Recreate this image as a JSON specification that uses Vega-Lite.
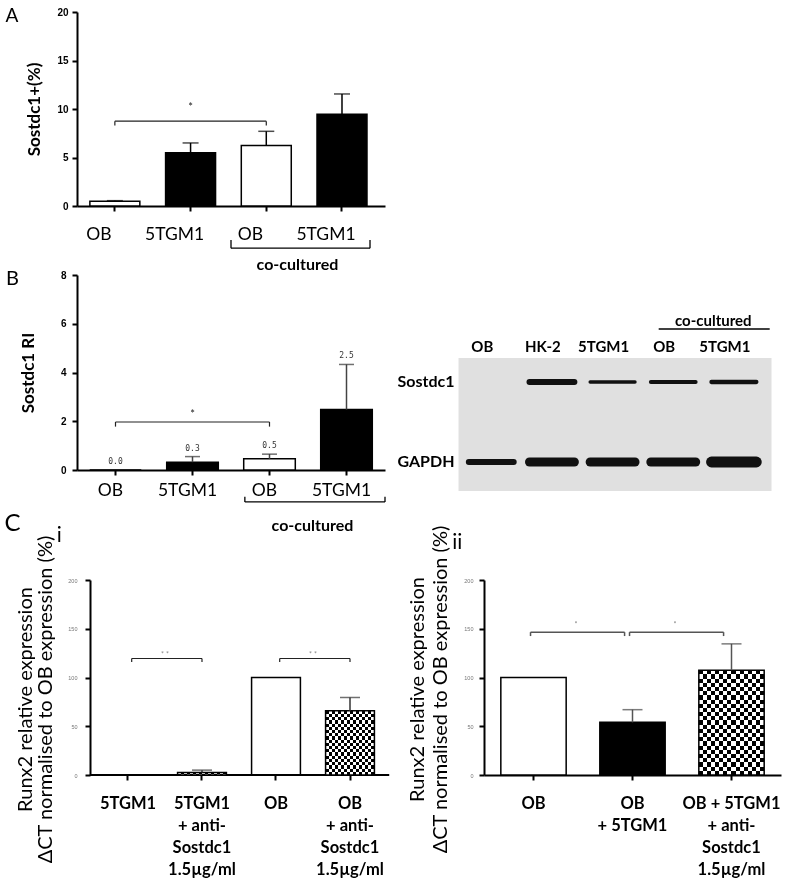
{
"$schema": "https://vega.github.io/schema/vega-lite/v6.json",
"background": "white",
"padding": {"left": 4, "top": 6, "right": 0, "bottom": 0},
"config": {
  "view": {"stroke": null},
  "font": "Lato",
  "axis": {"grid": false, "domainColor": "black", "domainWidth": 2, "tickColor": "black", "tickWidth": 2, "tickSize": 5, "labelColor": "black", "titleColor": "black", "labelFlush": false, "labelOverlap": false}
},
"datasets": {
  "a": [
    {"cat": "OB", "value": 0.5, "err": 0.55, "fill": "open"},
    {"cat": "5TGM1", "value": 5.5, "err": 6.5, "fill": "filled"},
    {"cat": "OB co", "value": 6.25, "err": 7.7, "fill": "open"},
    {"cat": "5TGM1 co", "value": 9.45, "err": 11.55, "fill": "filled"}
  ],
  "aSig": [{"from": "OB", "to": "OB co", "mid": "5TGM1", "level": 8.75, "low": 8.3, "star": "*", "starlevel": 10.1}],
  "aGroup": [{"from": "OB co", "to": "5TGM1 co", "top": -3.5, "level": -4.35}],
  "aLetter": [{"at": "OB", "label": "A", "level": 19.6}],
  "b": [
    {"cat": "OB", "value": 0, "err": 0, "fill": "open", "label": "0.0"},
    {"cat": "5TGM1", "value": 0.32, "err": 0.55, "fill": "filled", "label": "0.3"},
    {"cat": "OB co", "value": 0.46, "err": 0.65, "fill": "open", "label": "0.5"},
    {"cat": "5TGM1 co", "value": 2.48, "err": 4.33, "fill": "filled", "label": "2.5"}
  ],
  "bSig": [{"from": "OB", "to": "OB co", "mid": "5TGM1", "level": 1.97, "low": 1.78, "star": "*", "starlevel": 2.25}],
  "bGroup": [{"from": "OB co", "to": "5TGM1 co", "top": -1.1, "level": -1.31}],
  "bLetter": [{"at": "OB", "label": "B", "level": 7.83}],
  "membrane": [{"from": "OB", "to": "5TGM1 co", "mid": 0.5}],
  "lanes": [
    {"lane": "OB", "label": "OB", "level": 1.083},
    {"lane": "HK-2", "label": "HK-2", "level": 1.083},
    {"lane": "5TGM1", "label": "5TGM1", "level": 1.083},
    {"lane": "OB co", "label": "OB", "level": 1.083},
    {"lane": "5TGM1 co", "label": "5TGM1", "level": 1.083}
  ],
  "proteins": [{"lane": "OB", "protein": "Sostdc1"}, {"lane": "OB", "protein": "GAPDH"}],
  "blot": [
    {"lane": "HK-2", "protein": "Sostdc1", "density": 0.5},
    {"lane": "5TGM1", "protein": "Sostdc1", "density": 0.28},
    {"lane": "OB co", "protein": "Sostdc1", "density": 0.32},
    {"lane": "5TGM1 co", "protein": "Sostdc1", "density": 0.36},
    {"lane": "OB", "protein": "GAPDH", "density": 0.5},
    {"lane": "HK-2", "protein": "GAPDH", "density": 0.75},
    {"lane": "5TGM1", "protein": "GAPDH", "density": 0.75},
    {"lane": "OB co", "protein": "GAPDH", "density": 0.75},
    {"lane": "5TGM1 co", "protein": "GAPDH", "density": 0.9}
  ],
  "blotGroup": [{"from": "OB co", "to": "5TGM1 co", "line": 1.218, "label": "co-cultured", "labelcat": "5TGM1 co", "labellevel": 1.278}],
  "ci": [
    {"cat": "5TGM1", "value": 0, "err": null, "fill": "filled"},
    {"cat": "5TGM1|+ anti-|Sostdc1|1.5µg/ml", "value": 2.5, "err": 5, "fill": "checked"},
    {"cat": "OB", "value": 100, "err": null, "fill": "open"},
    {"cat": "OB|+ anti-|Sostdc1|1.5µg/ml", "value": 66, "err": 79.5, "fill": "checked"}
  ],
  "ciBase": [{"from": "5TGM1", "to": "OB|+ anti-|Sostdc1|1.5µg/ml", "base": 0}],
  "ciSig": [
    {"from": "5TGM1", "to": "5TGM1|+ anti-|Sostdc1|1.5µg/ml", "level": 119.5, "low": 116, "star": "* *", "starlevel": 123.5},
    {"from": "OB", "to": "OB|+ anti-|Sostdc1|1.5µg/ml", "level": 119.5, "low": 116, "star": "* *", "starlevel": 123.5}
  ],
  "cLetter": [{"at": "5TGM1", "label": "C", "level": 257.7}],
  "ciLetter": [{"at": "5TGM1", "label": "i", "level": 245}],
  "cii": [
    {"cat": "OB", "value": 100, "err": null, "fill": "open"},
    {"cat": "OB|+ 5TGM1", "value": 54, "err": 67, "fill": "filled"},
    {"cat": "OB + 5TGM1|+ anti-|Sostdc1|1.5µg/ml", "value": 107.5, "err": 134.5, "fill": "checked"}
  ],
  "ciiSig": [
    {"from": "OB", "to": "OB|+ 5TGM1", "level": 146.5, "low": 142.5, "star": "*", "starlevel": 153.5},
    {"from": "OB|+ 5TGM1", "to": "OB + 5TGM1|+ anti-|Sostdc1|1.5µg/ml", "level": 146.5, "low": 142.5, "star": "*", "starlevel": 153.5}
  ],
  "ciiLetter": [{"at": "OB", "label": "ii", "level": 237.5}]
},
"spacing": -23,
"vconcat": [
 {
  "spacing": -4,
  "vconcat": [
   {
    "width": 308, "height": 194,
    "data": {"name": "a"},
    "layer": [
     {"mark": {"type": "bar", "stroke": "black", "strokeWidth": 1.5, "width": {"band": 0.66}},
      "encoding": {
       "x": {"field": "cat", "type": "nominal", "scale": {"domain": ["OB", "5TGM1", "OB co", "5TGM1 co"], "paddingInner": 0, "paddingOuter": 0.034, "align": 0},
             "axis": {"title": "co-cultured", "titleX": 220, "titleFont": "Lato", "titleFontSize": 16, "titleFontWeight": "bold", "titlePadding": 14, "labelExpr": "replace(datum.label, ' co', '')", "labelFont": "Lato", "labelFontSize": 17.5, "labelPadding": 14, "labelOffset": -16, "labelAngle": 0}},
       "y": {"field": "value", "type": "quantitative", "scale": {"domain": [0, 20], "nice": false},
             "axis": {"title": "Sostdc1+(%)", "values": [0, 5, 10, 15, 20], "titleFont": "Lato", "titleFontSize": 17, "titleFontWeight": "bold", "titlePadding": 12, "labelFont": "Liberation Sans", "labelFontSize": 10, "labelFontWeight": "bold", "labelPadding": 4, "minExtent": 22, "maxExtent": 22}},
       "fill": {"field": "fill", "type": "nominal", "scale": {"domain": ["open", "filled"], "range": ["white", "black"]}, "legend": null}
      }},
     {"transform": [{"filter": "datum.err > datum.value"}],
      "mark": {"type": "rule", "color": "black", "strokeWidth": 1.5},
      "encoding": {
       "x": {"field": "cat", "type": "nominal", "scale": {"domain": ["OB", "5TGM1", "OB co", "5TGM1 co"], "paddingInner": 0, "paddingOuter": 0.034, "align": 0}},
       "y": {"field": "value", "type": "quantitative", "scale": {"domain": [0, 20], "nice": false}},
       "y2": {"field": "err"}
      }},
     {"transform": [{"filter": "datum.err > datum.value"}],
      "mark": {"type": "tick", "color": "black", "thickness": 1.5, "size": 16},
      "encoding": {
       "x": {"field": "cat", "type": "nominal", "scale": {"domain": ["OB", "5TGM1", "OB co", "5TGM1 co"], "paddingInner": 0, "paddingOuter": 0.034, "align": 0}},
       "y": {"field": "err", "type": "quantitative", "scale": {"domain": [0, 20], "nice": false}}
      }},
     {"data": {"name": "aSig"},
      "mark": {"type": "rule", "color": "#222", "strokeWidth": 1.2},
      "encoding": {
       "x": {"field": "from", "type": "nominal", "bandPosition": 0.5, "scale": {"domain": ["OB", "5TGM1", "OB co", "5TGM1 co"], "paddingInner": 0, "paddingOuter": 0.034, "align": 0}},
       "x2": {"field": "to", "bandPosition": 0.5},
       "y": {"field": "level", "type": "quantitative", "scale": {"domain": [0, 20], "nice": false}}
      }},
     {"data": {"name": "aSig"},
      "mark": {"type": "rule", "color": "#222", "strokeWidth": 1.2},
      "encoding": {
       "x": {"field": "from", "type": "nominal", "scale": {"domain": ["OB", "5TGM1", "OB co", "5TGM1 co"], "paddingInner": 0, "paddingOuter": 0.034, "align": 0}},
       "y": {"field": "level", "type": "quantitative", "scale": {"domain": [0, 20], "nice": false}},
       "y2": {"field": "low"}
      }},
     {"data": {"name": "aSig"},
      "mark": {"type": "rule", "color": "#222", "strokeWidth": 1.2},
      "encoding": {
       "x": {"field": "to", "type": "nominal", "scale": {"domain": ["OB", "5TGM1", "OB co", "5TGM1 co"], "paddingInner": 0, "paddingOuter": 0.034, "align": 0}},
       "y": {"field": "level", "type": "quantitative", "scale": {"domain": [0, 20], "nice": false}},
       "y2": {"field": "low"}
      }},
     {"data": {"name": "aSig"},
      "mark": {"type": "text", "fontSize": 11, "baseline": "middle", "color": "#222"},
      "encoding": {
       "x": {"field": "mid", "type": "nominal", "scale": {"domain": ["OB", "5TGM1", "OB co", "5TGM1 co"], "paddingInner": 0, "paddingOuter": 0.034, "align": 0}},
       "y": {"field": "starlevel", "type": "quantitative", "scale": {"domain": [0, 20], "nice": false}},
       "text": {"field": "star"}
      }},
     {"data": {"name": "aGroup"},
      "mark": {"type": "rule", "color": "black", "strokeWidth": 1.3},
      "encoding": {
       "x": {"field": "from", "type": "nominal", "bandPosition": 0.034, "scale": {"domain": ["OB", "5TGM1", "OB co", "5TGM1 co"], "paddingInner": 0, "paddingOuter": 0.034, "align": 0}},
       "x2": {"field": "to", "bandPosition": 0.87},
       "y": {"field": "level", "type": "quantitative", "scale": {"domain": [0, 20], "nice": false}}
      }},
     {"data": {"name": "aGroup"},
      "mark": {"type": "rule", "color": "black", "strokeWidth": 1.3},
      "encoding": {
       "x": {"field": "from", "type": "nominal", "bandPosition": 0.034, "scale": {"domain": ["OB", "5TGM1", "OB co", "5TGM1 co"], "paddingInner": 0, "paddingOuter": 0.034, "align": 0}},
       "y": {"field": "top", "type": "quantitative", "scale": {"domain": [0, 20], "nice": false}},
       "y2": {"field": "level"}
      }},
     {"data": {"name": "aGroup"},
      "mark": {"type": "rule", "color": "black", "strokeWidth": 1.3},
      "encoding": {
       "x": {"field": "to", "type": "nominal", "bandPosition": 0.87, "scale": {"domain": ["OB", "5TGM1", "OB co", "5TGM1 co"], "paddingInner": 0, "paddingOuter": 0.034, "align": 0}},
       "y": {"field": "top", "type": "quantitative", "scale": {"domain": [0, 20], "nice": false}},
       "y2": {"field": "level"}
      }},
     {"data": {"name": "aLetter"},
      "mark": {"type": "text", "fontSize": 19, "baseline": "middle", "align": "center"},
      "encoding": {
       "x": {"field": "at", "type": "nominal", "bandPosition": -0.859, "scale": {"domain": ["OB", "5TGM1", "OB co", "5TGM1 co"], "paddingInner": 0, "paddingOuter": 0.034, "align": 0}},
       "y": {"field": "level", "type": "quantitative", "scale": {"domain": [0, 20], "nice": false}},
       "text": {"field": "label"}
      }}
    ]
   },
   {
    "width": 308, "height": 195,
    "resolve": {"scale": {"x": "independent", "y": "independent"}},
    "layer": [
     {
      "data": {"name": "b"},
      "layer": [
       {"mark": {"type": "bar", "stroke": "black", "strokeWidth": 1.5, "width": {"band": 0.67}},
        "encoding": {
         "x": {"field": "cat", "type": "nominal", "scale": {"domain": ["OB", "5TGM1", "OB co", "5TGM1 co"], "paddingInner": 0, "paddingOuter": 0},
               "axis": {"title": "co-cultured", "titleX": 235, "titleFont": "Lato", "titleFontSize": 16, "titleFontWeight": "bold", "titlePadding": 19, "labelExpr": "replace(datum.label, ' co', '')", "labelFont": "Lato", "labelFontSize": 17.5, "labelPadding": 6, "labelOffset": -5, "labelAngle": 0}},
         "y": {"field": "value", "type": "quantitative", "scale": {"domain": [0, 8], "nice": false},
               "axis": {"title": "Sostdc1 RI", "values": [0, 2, 4, 6, 8], "titleFont": "Lato", "titleFontSize": 17, "titleFontWeight": "bold", "titlePadding": 22, "labelFont": "Liberation Sans", "labelFontSize": 10, "labelFontWeight": "bold", "labelPadding": 6, "minExtent": 18, "maxExtent": 18}},
         "fill": {"field": "fill", "type": "nominal", "scale": {"domain": ["open", "filled"], "range": ["white", "black"]}, "legend": null}
        }},
       {"transform": [{"filter": "datum.err > datum.value"}],
        "mark": {"type": "rule", "color": "#444", "strokeWidth": 1.5},
        "encoding": {
         "x": {"field": "cat", "type": "nominal", "scale": {"domain": ["OB", "5TGM1", "OB co", "5TGM1 co"], "paddingInner": 0, "paddingOuter": 0}},
         "y": {"field": "value", "type": "quantitative", "scale": {"domain": [0, 8], "nice": false}},
         "y2": {"field": "err"}
        }},
       {"transform": [{"filter": "datum.err > datum.value"}],
        "mark": {"type": "tick", "color": "#333", "thickness": 1.5, "size": 15},
        "encoding": {
         "x": {"field": "cat", "type": "nominal", "scale": {"domain": ["OB", "5TGM1", "OB co", "5TGM1 co"], "paddingInner": 0, "paddingOuter": 0}},
         "y": {"field": "err", "type": "quantitative", "scale": {"domain": [0, 8], "nice": false}}
        }},
       {"mark": {"type": "text", "font": "DejaVu Sans Mono", "fontSize": 8, "color": "#333", "baseline": "middle", "dy": -8},
        "encoding": {
         "x": {"field": "cat", "type": "nominal", "scale": {"domain": ["OB", "5TGM1", "OB co", "5TGM1 co"], "paddingInner": 0, "paddingOuter": 0}},
         "y": {"field": "err", "type": "quantitative", "scale": {"domain": [0, 8], "nice": false}},
         "text": {"field": "label"}
        }},
       {"data": {"name": "bSig"},
        "mark": {"type": "rule", "color": "#222", "strokeWidth": 1.2},
        "encoding": {
         "x": {"field": "from", "type": "nominal", "bandPosition": 0.5, "scale": {"domain": ["OB", "5TGM1", "OB co", "5TGM1 co"], "paddingInner": 0, "paddingOuter": 0}},
         "x2": {"field": "to", "bandPosition": 0.5},
         "y": {"field": "level", "type": "quantitative", "scale": {"domain": [0, 8], "nice": false}}
        }},
       {"data": {"name": "bSig"},
        "mark": {"type": "rule", "color": "#222", "strokeWidth": 1.2},
        "encoding": {
         "x": {"field": "from", "type": "nominal", "scale": {"domain": ["OB", "5TGM1", "OB co", "5TGM1 co"], "paddingInner": 0, "paddingOuter": 0}},
         "y": {"field": "level", "type": "quantitative", "scale": {"domain": [0, 8], "nice": false}},
         "y2": {"field": "low"}
        }},
       {"data": {"name": "bSig"},
        "mark": {"type": "rule", "color": "#222", "strokeWidth": 1.2},
        "encoding": {
         "x": {"field": "to", "type": "nominal", "scale": {"domain": ["OB", "5TGM1", "OB co", "5TGM1 co"], "paddingInner": 0, "paddingOuter": 0}},
         "y": {"field": "level", "type": "quantitative", "scale": {"domain": [0, 8], "nice": false}},
         "y2": {"field": "low"}
        }},
       {"data": {"name": "bSig"},
        "mark": {"type": "text", "fontSize": 11, "baseline": "middle", "color": "#222"},
        "encoding": {
         "x": {"field": "mid", "type": "nominal", "scale": {"domain": ["OB", "5TGM1", "OB co", "5TGM1 co"], "paddingInner": 0, "paddingOuter": 0}},
         "y": {"field": "starlevel", "type": "quantitative", "scale": {"domain": [0, 8], "nice": false}},
         "text": {"field": "star"}
        }},
       {"data": {"name": "bGroup"},
        "mark": {"type": "rule", "color": "black", "strokeWidth": 1.3},
        "encoding": {
         "x": {"field": "from", "type": "nominal", "bandPosition": 0.18, "scale": {"domain": ["OB", "5TGM1", "OB co", "5TGM1 co"], "paddingInner": 0, "paddingOuter": 0}},
         "x2": {"field": "to", "bandPosition": 1.0},
         "y": {"field": "level", "type": "quantitative", "scale": {"domain": [0, 8], "nice": false}}
        }},
       {"data": {"name": "bGroup"},
        "mark": {"type": "rule", "color": "black", "strokeWidth": 1.3},
        "encoding": {
         "x": {"field": "from", "type": "nominal", "bandPosition": 0.18, "scale": {"domain": ["OB", "5TGM1", "OB co", "5TGM1 co"], "paddingInner": 0, "paddingOuter": 0}},
         "y": {"field": "top", "type": "quantitative", "scale": {"domain": [0, 8], "nice": false}},
         "y2": {"field": "level"}
        }},
       {"data": {"name": "bGroup"},
        "mark": {"type": "rule", "color": "black", "strokeWidth": 1.3},
        "encoding": {
         "x": {"field": "to", "type": "nominal", "bandPosition": 1.0, "scale": {"domain": ["OB", "5TGM1", "OB co", "5TGM1 co"], "paddingInner": 0, "paddingOuter": 0}},
         "y": {"field": "top", "type": "quantitative", "scale": {"domain": [0, 8], "nice": false}},
         "y2": {"field": "level"}
        }},
       {"data": {"name": "bLetter"},
        "mark": {"type": "text", "fontSize": 20, "baseline": "middle", "align": "center"},
        "encoding": {
         "x": {"field": "at", "type": "nominal", "bandPosition": -0.838, "scale": {"domain": ["OB", "5TGM1", "OB co", "5TGM1 co"], "paddingInner": 0, "paddingOuter": 0}},
         "y": {"field": "level", "type": "quantitative", "scale": {"domain": [0, 8], "nice": false}},
         "text": {"field": "label"}
        }}
      ]
     },
     {
      "resolve": {"scale": {"y": "independent", "strokeWidth": "independent"}},
      "layer": [
       {"data": {"name": "membrane"},
        "mark": {"type": "rule", "color": "#e0e0e0", "strokeWidth": 133, "strokeCap": "butt"},
        "encoding": {
         "x": {"field": "from", "type": "nominal", "bandPosition": -0.04, "axis": null, "scale": {"domain": ["OB", "HK-2", "5TGM1", "OB co", "5TGM1 co"], "range": [382, 695], "paddingInner": 0, "paddingOuter": 0.08, "align": 0.2}},
         "x2": {"field": "to", "bandPosition": 1.12},
         "y": {"field": "mid", "type": "quantitative", "axis": null, "scale": {"domain": [0, 1], "range": [216, 83]}}
        }},
       {"data": {"name": "blot"},
        "mark": {"type": "rule", "strokeCap": "round", "color": "#111"},
        "encoding": {
         "x": {"field": "lane", "type": "nominal", "bandPosition": 0.13, "axis": null, "scale": {"domain": ["OB", "HK-2", "5TGM1", "OB co", "5TGM1 co"], "range": [382, 695], "paddingInner": 0, "paddingOuter": 0.08, "align": 0.2}},
         "x2": {"field": "lane", "bandPosition": 0.87},
         "y": {"field": "protein", "type": "nominal", "axis": null, "scale": {"type": "point", "domain": ["Sostdc1", "GAPDH"], "range": [107, 187], "padding": 0}},
         "strokeWidth": {"field": "density", "type": "quantitative", "scale": {"domain": [0, 1], "range": [0, 12]}, "legend": null}
        }},
       {"data": {"name": "lanes"},
        "mark": {"type": "text", "fontSize": 15, "fontWeight": "bold", "baseline": "middle", "dx": -9},
        "encoding": {
         "x": {"field": "lane", "type": "nominal", "axis": null, "scale": {"domain": ["OB", "HK-2", "5TGM1", "OB co", "5TGM1 co"], "range": [382, 695], "paddingInner": 0, "paddingOuter": 0.08, "align": 0.2}},
         "y": {"field": "level", "type": "quantitative", "axis": null, "scale": {"domain": [0, 1], "range": [216, 83]}},
         "text": {"field": "label"}
        }},
       {"data": {"name": "proteins"},
        "mark": {"type": "text", "fontSize": 16, "fontWeight": "bold", "baseline": "middle", "align": "right"},
        "encoding": {
         "x": {"field": "lane", "type": "nominal", "bandPosition": -0.106, "axis": null, "scale": {"domain": ["OB", "HK-2", "5TGM1", "OB co", "5TGM1 co"], "range": [382, 695], "paddingInner": 0, "paddingOuter": 0.08, "align": 0.2}},
         "y": {"field": "protein", "type": "nominal", "axis": null, "scale": {"type": "point", "domain": ["Sostdc1", "GAPDH"], "range": [107, 187], "padding": 0}},
         "text": {"field": "protein"}
        }},
       {"data": {"name": "blotGroup"},
        "mark": {"type": "rule", "color": "black", "strokeWidth": 1.5},
        "encoding": {
         "x": {"field": "from", "type": "nominal", "bandPosition": 0.26, "axis": null, "scale": {"domain": ["OB", "HK-2", "5TGM1", "OB co", "5TGM1 co"], "range": [382, 695], "paddingInner": 0, "paddingOuter": 0.08, "align": 0.2}},
         "x2": {"field": "to", "bandPosition": 1.09},
         "y": {"field": "line", "type": "quantitative", "axis": null, "scale": {"domain": [0, 1], "range": [216, 83]}}
        }},
       {"data": {"name": "blotGroup"},
        "mark": {"type": "text", "fontSize": 15, "fontWeight": "bold", "baseline": "middle"},
        "encoding": {
         "x": {"field": "labelcat", "type": "nominal", "bandPosition": 0.16, "axis": null, "scale": {"domain": ["OB", "HK-2", "5TGM1", "OB co", "5TGM1 co"], "range": [382, 695], "paddingInner": 0, "paddingOuter": 0.08, "align": 0.2}},
         "y": {"field": "labellevel", "type": "quantitative", "axis": null, "scale": {"domain": [0, 1], "range": [216, 83]}},
         "text": {"field": "label"}
        }}
      ]
     }
    ]
   }
  ]
 },
 {
  "spacing": 15,
  "hconcat": [
   {
    "width": 312, "height": 195,
    "data": {"name": "ci"},
    "layer": [
     {"transform": [{"filter": "datum.fill != 'checked'"}],
      "mark": {"type": "bar", "width": {"band": 0.66}},
      "encoding": {
       "x": {"field": "cat", "type": "nominal", "title": null, "scale": {"domain": ["5TGM1", "5TGM1|+ anti-|Sostdc1|1.5µg/ml", "OB", "OB|+ anti-|Sostdc1|1.5µg/ml"], "paddingInner": 0, "paddingOuter": 0.108, "align": 0.875},
             "axis": {"domain": false, "labelExpr": "split(datum.label, '|')", "labelFont": "Lato", "labelFontSize": 16.5, "labelFontWeight": "bold", "labelLineHeight": 22, "labelPadding": 15, "labelAngle": 0}},
       "y": {"field": "value", "type": "quantitative", "scale": {"domain": [0, 200], "nice": false},
             "axis": {"offset": -13, "title": ["Runx2 relative expression", "ΔCT normalised to OB expression (%)"], "values": [0, 50, 100, 150, 200], "titleFont": "Lato", "titleFontSize": 20, "titleFontWeight": "normal", "titleLineHeight": 20, "titlePadding": 10, "titleY": 119, "labelFont": "Liberation Sans", "labelFontSize": 5.5, "labelColor": "#777", "labelPadding": 8, "minExtent": 25, "maxExtent": 25}},
       "fill": {"field": "fill", "type": "nominal", "scale": {"domain": ["open", "filled"], "range": ["white", "black"]}, "legend": null}
      }},
     {"data": {"name": "ciBase"},
      "mark": {"type": "rule", "color": "black", "strokeWidth": 2},
      "encoding": {
       "x": {"field": "from", "type": "nominal", "bandPosition": -0.014, "title": null, "scale": {"domain": ["5TGM1", "5TGM1|+ anti-|Sostdc1|1.5µg/ml", "OB", "OB|+ anti-|Sostdc1|1.5µg/ml"], "paddingInner": 0, "paddingOuter": 0.108, "align": 0.875}},
       "x2": {"field": "to", "bandPosition": 1.03},
       "y": {"field": "base", "type": "quantitative", "scale": {"domain": [0, 200], "nice": false}}
      }},
     {"transform": [{"filter": "datum.fill == 'checked' && datum.value > 10"}],
      "mark": {"type": "bar", "width": {"band": 0.66},
       "fill": {"gradient": "linear", "x1": 0, "y1": 0, "x2": 0, "y2": 1, "stops": [
        {"offset": 0, "color": "black"}, {"offset": 0.05, "color": "black"}, {"offset": 0.05, "color": "white"}, {"offset": 0.1, "color": "white"},
        {"offset": 0.1, "color": "black"}, {"offset": 0.15, "color": "black"}, {"offset": 0.15, "color": "white"}, {"offset": 0.2, "color": "white"},
        {"offset": 0.2, "color": "black"}, {"offset": 0.25, "color": "black"}, {"offset": 0.25, "color": "white"}, {"offset": 0.3, "color": "white"},
        {"offset": 0.3, "color": "black"}, {"offset": 0.35, "color": "black"}, {"offset": 0.35, "color": "white"}, {"offset": 0.4, "color": "white"},
        {"offset": 0.4, "color": "black"}, {"offset": 0.45, "color": "black"}, {"offset": 0.45, "color": "white"}, {"offset": 0.5, "color": "white"},
        {"offset": 0.5, "color": "black"}, {"offset": 0.55, "color": "black"}, {"offset": 0.55, "color": "white"}, {"offset": 0.6, "color": "white"},
        {"offset": 0.6, "color": "black"}, {"offset": 0.65, "color": "black"}, {"offset": 0.65, "color": "white"}, {"offset": 0.7, "color": "white"},
        {"offset": 0.7, "color": "black"}, {"offset": 0.75, "color": "black"}, {"offset": 0.75, "color": "white"}, {"offset": 0.8, "color": "white"},
        {"offset": 0.8, "color": "black"}, {"offset": 0.85, "color": "black"}, {"offset": 0.85, "color": "white"}, {"offset": 0.9, "color": "white"},
        {"offset": 0.9, "color": "black"}, {"offset": 0.95, "color": "black"}, {"offset": 0.95, "color": "white"}, {"offset": 1, "color": "white"}]}},
      "encoding": {
       "x": {"field": "cat", "type": "nominal", "title": null, "scale": {"domain": ["5TGM1", "5TGM1|+ anti-|Sostdc1|1.5µg/ml", "OB", "OB|+ anti-|Sostdc1|1.5µg/ml"], "paddingInner": 0, "paddingOuter": 0.108, "align": 0.875}},
       "y": {"field": "value", "type": "quantitative", "scale": {"domain": [0, 200], "nice": false}}
      }},
     {"transform": [{"filter": "datum.fill == 'checked'"}],
      "mark": {"type": "bar", "width": {"band": 0.66}, "blend": "difference",
       "fill": {"gradient": "linear", "x1": 0, "y1": 0, "x2": 1, "y2": 0, "stops": [
        {"offset": 0, "color": "black"}, {"offset": 0.0625, "color": "black"}, {"offset": 0.0625, "color": "white"}, {"offset": 0.125, "color": "white"},
        {"offset": 0.125, "color": "black"}, {"offset": 0.1875, "color": "black"}, {"offset": 0.1875, "color": "white"}, {"offset": 0.25, "color": "white"},
        {"offset": 0.25, "color": "black"}, {"offset": 0.3125, "color": "black"}, {"offset": 0.3125, "color": "white"}, {"offset": 0.375, "color": "white"},
        {"offset": 0.375, "color": "black"}, {"offset": 0.4375, "color": "black"}, {"offset": 0.4375, "color": "white"}, {"offset": 0.5, "color": "white"},
        {"offset": 0.5, "color": "black"}, {"offset": 0.5625, "color": "black"}, {"offset": 0.5625, "color": "white"}, {"offset": 0.625, "color": "white"},
        {"offset": 0.625, "color": "black"}, {"offset": 0.6875, "color": "black"}, {"offset": 0.6875, "color": "white"}, {"offset": 0.75, "color": "white"},
        {"offset": 0.75, "color": "black"}, {"offset": 0.8125, "color": "black"}, {"offset": 0.8125, "color": "white"}, {"offset": 0.875, "color": "white"},
        {"offset": 0.875, "color": "black"}, {"offset": 0.9375, "color": "black"}, {"offset": 0.9375, "color": "white"}, {"offset": 1, "color": "white"}]}},
      "encoding": {
       "x": {"field": "cat", "type": "nominal", "title": null, "scale": {"domain": ["5TGM1", "5TGM1|+ anti-|Sostdc1|1.5µg/ml", "OB", "OB|+ anti-|Sostdc1|1.5µg/ml"], "paddingInner": 0, "paddingOuter": 0.108, "align": 0.875}},
       "y": {"field": "value", "type": "quantitative", "scale": {"domain": [0, 200], "nice": false}}
      }},
     {"mark": {"type": "bar", "width": {"band": 0.66}, "fill": "transparent", "stroke": "black", "strokeWidth": 1.5},
      "encoding": {
       "x": {"field": "cat", "type": "nominal", "title": null, "scale": {"domain": ["5TGM1", "5TGM1|+ anti-|Sostdc1|1.5µg/ml", "OB", "OB|+ anti-|Sostdc1|1.5µg/ml"], "paddingInner": 0, "paddingOuter": 0.108, "align": 0.875}},
       "y": {"field": "value", "type": "quantitative", "scale": {"domain": [0, 200], "nice": false}}
      }},
     {"transform": [{"filter": "datum.err != null"}],
      "mark": {"type": "rule", "color": "#333", "strokeWidth": 1.5},
      "encoding": {
       "x": {"field": "cat", "type": "nominal", "title": null, "scale": {"domain": ["5TGM1", "5TGM1|+ anti-|Sostdc1|1.5µg/ml", "OB", "OB|+ anti-|Sostdc1|1.5µg/ml"], "paddingInner": 0, "paddingOuter": 0.108, "align": 0.875}},
       "y": {"field": "value", "type": "quantitative", "scale": {"domain": [0, 200], "nice": false}},
       "y2": {"field": "err"}
      }},
     {"transform": [{"filter": "datum.err != null"}],
      "mark": {"type": "tick", "color": "#333", "thickness": 1.5, "size": 20},
      "encoding": {
       "x": {"field": "cat", "type": "nominal", "title": null, "scale": {"domain": ["5TGM1", "5TGM1|+ anti-|Sostdc1|1.5µg/ml", "OB", "OB|+ anti-|Sostdc1|1.5µg/ml"], "paddingInner": 0, "paddingOuter": 0.108, "align": 0.875}},
       "y": {"field": "err", "type": "quantitative", "scale": {"domain": [0, 200], "nice": false}}
      }},
     {"data": {"name": "ciSig"},
      "mark": {"type": "rule", "color": "#222", "strokeWidth": 1.2},
      "encoding": {
       "x": {"field": "from", "type": "nominal", "bandPosition": 0.55, "title": null, "scale": {"domain": ["5TGM1", "5TGM1|+ anti-|Sostdc1|1.5µg/ml", "OB", "OB|+ anti-|Sostdc1|1.5µg/ml"], "paddingInner": 0, "paddingOuter": 0.108, "align": 0.875}},
       "x2": {"field": "to", "bandPosition": 0.5},
       "y": {"field": "level", "type": "quantitative", "scale": {"domain": [0, 200], "nice": false}}
      }},
     {"data": {"name": "ciSig"},
      "mark": {"type": "rule", "color": "#222", "strokeWidth": 1.2},
      "encoding": {
       "x": {"field": "from", "type": "nominal", "bandPosition": 0.55, "title": null, "scale": {"domain": ["5TGM1", "5TGM1|+ anti-|Sostdc1|1.5µg/ml", "OB", "OB|+ anti-|Sostdc1|1.5µg/ml"], "paddingInner": 0, "paddingOuter": 0.108, "align": 0.875}},
       "y": {"field": "level", "type": "quantitative", "scale": {"domain": [0, 200], "nice": false}},
       "y2": {"field": "low"}
      }},
     {"data": {"name": "ciSig"},
      "mark": {"type": "rule", "color": "#222", "strokeWidth": 1.2},
      "encoding": {
       "x": {"field": "to", "type": "nominal", "bandPosition": 0.5, "title": null, "scale": {"domain": ["5TGM1", "5TGM1|+ anti-|Sostdc1|1.5µg/ml", "OB", "OB|+ anti-|Sostdc1|1.5µg/ml"], "paddingInner": 0, "paddingOuter": 0.108, "align": 0.875}},
       "y": {"field": "level", "type": "quantitative", "scale": {"domain": [0, 200], "nice": false}},
       "y2": {"field": "low"}
      }},
     {"data": {"name": "ciSig"},
      "mark": {"type": "text", "fontSize": 7, "baseline": "middle", "color": "#888"},
      "encoding": {
       "x": {"field": "from", "type": "nominal", "bandPosition": 1.0, "title": null, "scale": {"domain": ["5TGM1", "5TGM1|+ anti-|Sostdc1|1.5µg/ml", "OB", "OB|+ anti-|Sostdc1|1.5µg/ml"], "paddingInner": 0, "paddingOuter": 0.108, "align": 0.875}},
       "y": {"field": "starlevel", "type": "quantitative", "scale": {"domain": [0, 200], "nice": false}},
       "text": {"field": "star"}
      }},
     {"data": {"name": "cLetter"},
      "mark": {"type": "text", "fontSize": 24, "baseline": "middle", "align": "center"},
      "encoding": {
       "x": {"field": "at", "type": "nominal", "bandPosition": -1.06, "title": null, "scale": {"domain": ["5TGM1", "5TGM1|+ anti-|Sostdc1|1.5µg/ml", "OB", "OB|+ anti-|Sostdc1|1.5µg/ml"], "paddingInner": 0, "paddingOuter": 0.108, "align": 0.875}},
       "y": {"field": "level", "type": "quantitative", "scale": {"domain": [0, 200], "nice": false}},
       "text": {"field": "label"}
      }},
     {"data": {"name": "ciLetter"},
      "mark": {"type": "text", "fontSize": 21, "baseline": "middle", "align": "center"},
      "encoding": {
       "x": {"field": "at", "type": "nominal", "bandPosition": -0.43, "title": null, "scale": {"domain": ["5TGM1", "5TGM1|+ anti-|Sostdc1|1.5µg/ml", "OB", "OB|+ anti-|Sostdc1|1.5µg/ml"], "paddingInner": 0, "paddingOuter": 0.108, "align": 0.875}},
       "y": {"field": "level", "type": "quantitative", "scale": {"domain": [0, 200], "nice": false}},
       "text": {"field": "label"}
      }}
    ]
   },
   {
    "width": 297, "height": 195,
    "data": {"name": "cii"},
    "layer": [
     {"transform": [{"filter": "datum.fill != 'checked'"}],
      "mark": {"type": "bar", "width": {"band": 0.66}},
      "encoding": {
       "x": {"field": "cat", "type": "nominal", "title": null, "scale": {"domain": ["OB", "OB|+ 5TGM1", "OB + 5TGM1|+ anti-|Sostdc1|1.5µg/ml"], "paddingInner": 0, "paddingOuter": 0},
             "axis": {"labelExpr": "split(datum.label, '|')", "labelFont": "Lato", "labelFontSize": 16.5, "labelFontWeight": "bold", "labelLineHeight": 22, "labelPadding": 15, "labelAngle": 0}},
       "y": {"field": "value", "type": "quantitative", "scale": {"domain": [0, 200], "nice": false},
             "axis": {"title": ["Runx2 relative expression", "ΔCT  normalised to OB expression (%)"], "values": [0, 50, 100, 150, 200], "titleFont": "Lato", "titleFontSize": 20, "titleFontWeight": "normal", "titleLineHeight": 23, "titlePadding": 3, "titleY": 109, "labelFont": "Liberation Sans", "labelFontSize": 5.5, "labelColor": "#777", "labelPadding": 6, "minExtent": 31, "maxExtent": 31}},
       "fill": {"field": "fill", "type": "nominal", "scale": {"domain": ["open", "filled"], "range": ["white", "black"]}, "legend": null}
      }},
     {"transform": [{"filter": "datum.fill == 'checked'"}],
      "mark": {"type": "bar", "width": {"band": 0.66},
       "fill": {"gradient": "linear", "x1": 0, "y1": 0, "x2": 0, "y2": 1, "stops": [
        {"offset": 0, "color": "black"}, {"offset": 0.04, "color": "black"}, {"offset": 0.04, "color": "white"}, {"offset": 0.08, "color": "white"},
        {"offset": 0.08, "color": "black"}, {"offset": 0.12, "color": "black"}, {"offset": 0.12, "color": "white"}, {"offset": 0.16, "color": "white"},
        {"offset": 0.16, "color": "black"}, {"offset": 0.2, "color": "black"}, {"offset": 0.2, "color": "white"}, {"offset": 0.24, "color": "white"},
        {"offset": 0.24, "color": "black"}, {"offset": 0.28, "color": "black"}, {"offset": 0.28, "color": "white"}, {"offset": 0.32, "color": "white"},
        {"offset": 0.32, "color": "black"}, {"offset": 0.36, "color": "black"}, {"offset": 0.36, "color": "white"}, {"offset": 0.4, "color": "white"},
        {"offset": 0.4, "color": "black"}, {"offset": 0.44, "color": "black"}, {"offset": 0.44, "color": "white"}, {"offset": 0.48, "color": "white"},
        {"offset": 0.48, "color": "black"}, {"offset": 0.52, "color": "black"}, {"offset": 0.52, "color": "white"}, {"offset": 0.56, "color": "white"},
        {"offset": 0.56, "color": "black"}, {"offset": 0.6, "color": "black"}, {"offset": 0.6, "color": "white"}, {"offset": 0.64, "color": "white"},
        {"offset": 0.64, "color": "black"}, {"offset": 0.68, "color": "black"}, {"offset": 0.68, "color": "white"}, {"offset": 0.72, "color": "white"},
        {"offset": 0.72, "color": "black"}, {"offset": 0.76, "color": "black"}, {"offset": 0.76, "color": "white"}, {"offset": 0.8, "color": "white"},
        {"offset": 0.8, "color": "black"}, {"offset": 0.84, "color": "black"}, {"offset": 0.84, "color": "white"}, {"offset": 0.88, "color": "white"},
        {"offset": 0.88, "color": "black"}, {"offset": 0.92, "color": "black"}, {"offset": 0.92, "color": "white"}, {"offset": 0.96, "color": "white"},
        {"offset": 0.96, "color": "black"}, {"offset": 1, "color": "black"}]}},
      "encoding": {
       "x": {"field": "cat", "type": "nominal", "title": null, "scale": {"domain": ["OB", "OB|+ 5TGM1", "OB + 5TGM1|+ anti-|Sostdc1|1.5µg/ml"], "paddingInner": 0, "paddingOuter": 0}},
       "y": {"field": "value", "type": "quantitative", "scale": {"domain": [0, 200], "nice": false}}
      }},
     {"transform": [{"filter": "datum.fill == 'checked'"}],
      "mark": {"type": "bar", "width": {"band": 0.66}, "blend": "difference",
       "fill": {"gradient": "linear", "x1": 0, "y1": 0, "x2": 1, "y2": 0, "stops": [
        {"offset": 0, "color": "black"}, {"offset": 0.0625, "color": "black"}, {"offset": 0.0625, "color": "white"}, {"offset": 0.125, "color": "white"},
        {"offset": 0.125, "color": "black"}, {"offset": 0.1875, "color": "black"}, {"offset": 0.1875, "color": "white"}, {"offset": 0.25, "color": "white"},
        {"offset": 0.25, "color": "black"}, {"offset": 0.3125, "color": "black"}, {"offset": 0.3125, "color": "white"}, {"offset": 0.375, "color": "white"},
        {"offset": 0.375, "color": "black"}, {"offset": 0.4375, "color": "black"}, {"offset": 0.4375, "color": "white"}, {"offset": 0.5, "color": "white"},
        {"offset": 0.5, "color": "black"}, {"offset": 0.5625, "color": "black"}, {"offset": 0.5625, "color": "white"}, {"offset": 0.625, "color": "white"},
        {"offset": 0.625, "color": "black"}, {"offset": 0.6875, "color": "black"}, {"offset": 0.6875, "color": "white"}, {"offset": 0.75, "color": "white"},
        {"offset": 0.75, "color": "black"}, {"offset": 0.8125, "color": "black"}, {"offset": 0.8125, "color": "white"}, {"offset": 0.875, "color": "white"},
        {"offset": 0.875, "color": "black"}, {"offset": 0.9375, "color": "black"}, {"offset": 0.9375, "color": "white"}, {"offset": 1, "color": "white"}]}},
      "encoding": {
       "x": {"field": "cat", "type": "nominal", "title": null, "scale": {"domain": ["OB", "OB|+ 5TGM1", "OB + 5TGM1|+ anti-|Sostdc1|1.5µg/ml"], "paddingInner": 0, "paddingOuter": 0}},
       "y": {"field": "value", "type": "quantitative", "scale": {"domain": [0, 200], "nice": false}}
      }},
     {"mark": {"type": "bar", "width": {"band": 0.66}, "fill": "transparent", "stroke": "black", "strokeWidth": 1.5},
      "encoding": {
       "x": {"field": "cat", "type": "nominal", "title": null, "scale": {"domain": ["OB", "OB|+ 5TGM1", "OB + 5TGM1|+ anti-|Sostdc1|1.5µg/ml"], "paddingInner": 0, "paddingOuter": 0}},
       "y": {"field": "value", "type": "quantitative", "scale": {"domain": [0, 200], "nice": false}}
      }},
     {"transform": [{"filter": "datum.err != null"}],
      "mark": {"type": "rule", "color": "#555", "strokeWidth": 1.5},
      "encoding": {
       "x": {"field": "cat", "type": "nominal", "title": null, "scale": {"domain": ["OB", "OB|+ 5TGM1", "OB + 5TGM1|+ anti-|Sostdc1|1.5µg/ml"], "paddingInner": 0, "paddingOuter": 0}},
       "y": {"field": "value", "type": "quantitative", "scale": {"domain": [0, 200], "nice": false}},
       "y2": {"field": "err"}
      }},
     {"transform": [{"filter": "datum.err != null"}],
      "mark": {"type": "tick", "color": "#444", "thickness": 1.5, "size": 20},
      "encoding": {
       "x": {"field": "cat", "type": "nominal", "title": null, "scale": {"domain": ["OB", "OB|+ 5TGM1", "OB + 5TGM1|+ anti-|Sostdc1|1.5µg/ml"], "paddingInner": 0, "paddingOuter": 0}},
       "y": {"field": "err", "type": "quantitative", "scale": {"domain": [0, 200], "nice": false}}
      }},
     {"data": {"name": "ciiSig"},
      "mark": {"type": "rule", "color": "#555", "strokeWidth": 1.5},
      "encoding": {
       "x": {"field": "from", "type": "nominal", "bandPosition": 0.47, "title": null, "scale": {"domain": ["OB", "OB|+ 5TGM1", "OB + 5TGM1|+ anti-|Sostdc1|1.5µg/ml"], "paddingInner": 0, "paddingOuter": 0}},
       "x2": {"field": "to", "bandPosition": 0.42},
       "y": {"field": "level", "type": "quantitative", "scale": {"domain": [0, 200], "nice": false}}
      }},
     {"data": {"name": "ciiSig"},
      "mark": {"type": "rule", "color": "#555", "strokeWidth": 1.5},
      "encoding": {
       "x": {"field": "from", "type": "nominal", "bandPosition": 0.47, "title": null, "scale": {"domain": ["OB", "OB|+ 5TGM1", "OB + 5TGM1|+ anti-|Sostdc1|1.5µg/ml"], "paddingInner": 0, "paddingOuter": 0}},
       "y": {"field": "level", "type": "quantitative", "scale": {"domain": [0, 200], "nice": false}},
       "y2": {"field": "low"}
      }},
     {"data": {"name": "ciiSig"},
      "mark": {"type": "rule", "color": "#555", "strokeWidth": 1.5},
      "encoding": {
       "x": {"field": "to", "type": "nominal", "bandPosition": 0.42, "title": null, "scale": {"domain": ["OB", "OB|+ 5TGM1", "OB + 5TGM1|+ anti-|Sostdc1|1.5µg/ml"], "paddingInner": 0, "paddingOuter": 0}},
       "y": {"field": "level", "type": "quantitative", "scale": {"domain": [0, 200], "nice": false}},
       "y2": {"field": "low"}
      }},
     {"data": {"name": "ciiSig"},
      "mark": {"type": "text", "fontSize": 7, "baseline": "middle", "color": "#888"},
      "encoding": {
       "x": {"field": "from", "type": "nominal", "bandPosition": 0.93, "title": null, "scale": {"domain": ["OB", "OB|+ 5TGM1", "OB + 5TGM1|+ anti-|Sostdc1|1.5µg/ml"], "paddingInner": 0, "paddingOuter": 0}},
       "y": {"field": "starlevel", "type": "quantitative", "scale": {"domain": [0, 200], "nice": false}},
       "text": {"field": "star"}
      }},
     {"data": {"name": "ciiLetter"},
      "mark": {"type": "text", "fontSize": 21, "baseline": "middle", "align": "center"},
      "encoding": {
       "x": {"field": "at", "type": "nominal", "bandPosition": -0.27, "title": null, "scale": {"domain": ["OB", "OB|+ 5TGM1", "OB + 5TGM1|+ anti-|Sostdc1|1.5µg/ml"], "paddingInner": 0, "paddingOuter": 0}},
       "y": {"field": "level", "type": "quantitative", "scale": {"domain": [0, 200], "nice": false}},
       "text": {"field": "label"}
      }}
    ]
   }
  ]
 }
]
}
